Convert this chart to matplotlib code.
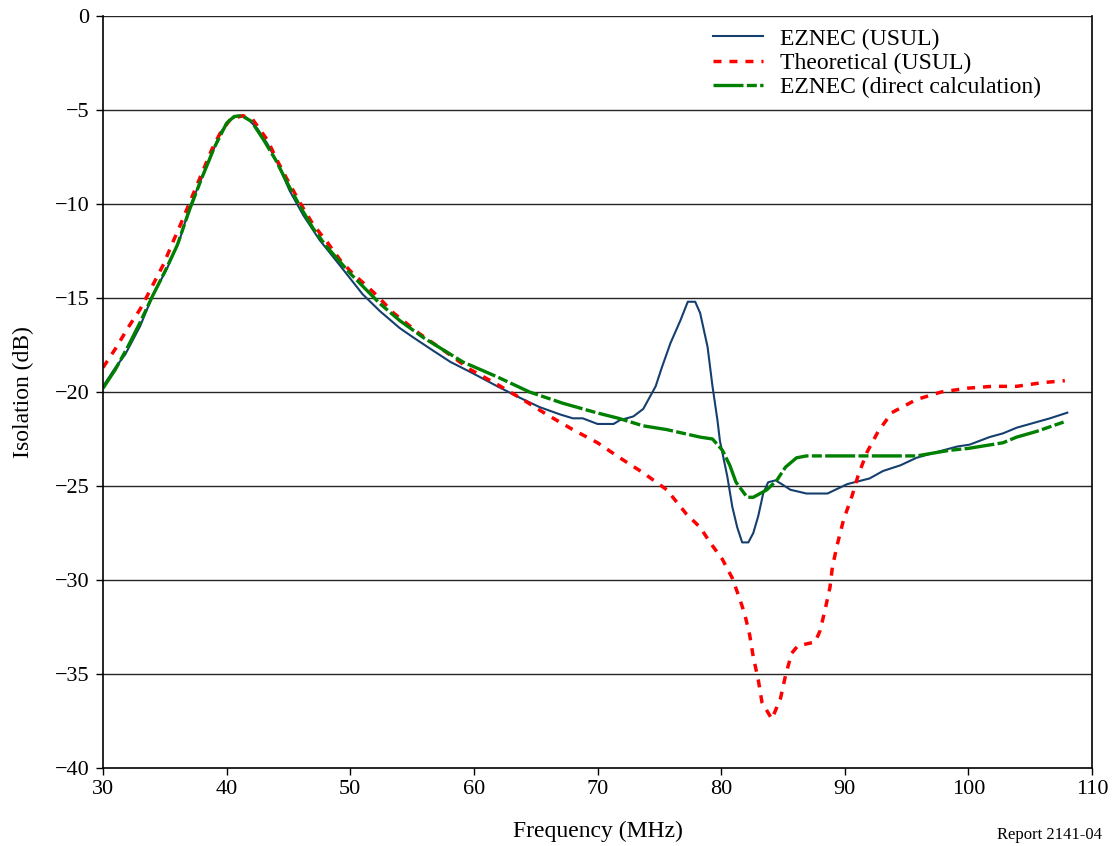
import matplotlib
matplotlib.use('Agg')
import numpy as np
import matplotlib.pyplot as plt

plt.rcParams['font.family'] = ['Liberation Serif', 'DejaVu Serif']

# EZNEC (USUL)
f_usul = [30, 31.0, 31.8, 33.0, 34.0, 35.2, 36.2, 37.0, 37.8, 38.7, 39.5, 40.3, 40.9,
          41.6, 42.5, 43.3, 44.1, 45.1, 46.2, 47.5, 49.2, 51.0, 52.4, 54.0, 55.1, 56.7,
          58.1, 59.9, 61.9, 63.7, 65.3, 67.0, 68.0, 68.8, 70.0, 71.3, 71.8, 72.9, 73.7,
          74.2, 74.7, 75.2, 75.9, 76.7, 77.3, 77.9, 78.3, 78.9, 79.3, 79.7, 79.9, 80.5,
          80.9, 81.3, 81.7, 82.2, 82.6, 83.0, 83.4, 83.8, 84.4, 84.9, 85.6, 86.9, 88.6,
          90.2, 92.0, 93.1, 94.5, 95.8, 97.4, 99.1, 100.1, 101.7, 102.8, 103.9, 106.6, 108.0]
iso_usul = [-19.7, -18.7, -18.0, -16.5, -14.9, -13.4, -11.9, -10.2, -8.9, -7.5, -6.2, -5.5, -5.3,
            -5.4, -6.0, -6.8, -7.8, -9.3, -10.6, -11.9, -13.3, -14.8, -15.7, -16.6, -17.1, -17.8,
            -18.4, -19.0, -19.7, -20.3, -20.8, -21.2, -21.4, -21.4, -21.7, -21.7, -21.5, -21.3, -20.9,
            -20.3, -19.7, -18.7, -17.4, -16.2, -15.2, -15.2, -15.8, -17.6, -19.7, -21.5, -22.6, -24.5,
            -26.1, -27.2, -28.0, -28.0, -27.5, -26.6, -25.4, -24.8, -24.7, -24.9, -25.2, -25.4, -25.4,
            -24.9, -24.6, -24.2, -23.9, -23.5, -23.2, -22.9, -22.8, -22.4, -22.2, -21.9, -21.4, -21.1]

# Theoretical (USUL)
f_theo = [30.0, 31.1, 32.0, 33.0, 33.8, 34.9, 35.6, 36.2, 37.4, 38.1, 38.8, 39.5, 40.3, 41.3,
          42.1, 43.3, 44.1, 44.9, 45.9, 47.0, 48.1, 49.2, 50.2, 51.4, 52.2, 53.5, 55.6, 57.8,
          59.7, 61.9, 63.7, 65.9, 68.0, 70.0, 71.8, 73.7, 75.6, 77.2, 78.3, 79.1, 80.1, 80.9,
          81.5, 81.9, 82.3, 82.6, 83.0, 83.3, 84.1, 84.8, 85.2, 85.7, 86.2, 87.6, 88.0, 88.4,
          88.8, 89.0, 89.4, 89.9, 90.6, 91.1, 91.8, 92.7, 93.8, 95.8, 97.8, 99.9, 101.9, 103.9,
          106.0, 107.8]
iso_theo = [-18.7, -17.6, -16.6, -15.6, -14.6, -13.2, -12.1, -11.2, -9.3, -8.2, -7.1, -6.2, -5.5, -5.3,
            -5.5, -6.6, -7.7, -8.7, -9.9, -11.1, -12.0, -13.0, -13.7, -14.4, -14.9, -15.8, -16.9, -17.9,
            -18.8, -19.6, -20.3, -21.2, -22.0, -22.7, -23.5, -24.3, -25.2, -26.5, -27.2, -28.0, -28.9, -29.9,
            -31.0, -31.8, -32.9, -34.1, -35.3, -36.5, -37.4, -36.3, -35.1, -33.9, -33.5, -33.3, -32.7, -31.6,
            -30.4, -29.3, -28.1, -26.8, -25.5, -24.4, -23.2, -22.1, -21.1, -20.4, -20.0, -19.8, -19.7, -19.7,
            -19.5, -19.4]

# EZNEC (direct calculation)
f_direct = [30, 31.0, 32.0, 33.0, 34.0, 35.0, 36.0, 37.0, 38.0, 39.0, 40.0, 40.6, 41.2, 42.0,
            43.0, 44.0, 45.0, 46.0, 47.0, 48.0, 50.0, 52.4, 54.0, 55.9, 59.1, 61.9, 64.5, 67.2,
            69.9, 71.7, 73.7, 75.6, 78.3, 79.3, 80.1, 80.7, 81.2, 82.1, 82.6, 83.7, 84.5, 85.2,
            86.1, 86.9, 95.8, 98.5, 100.0, 102.8, 103.9, 105.5, 107.7]
iso_direct = [-19.8, -18.8, -17.6, -16.3, -14.9, -13.6, -12.2, -10.3, -8.6, -7.0, -5.7, -5.35, -5.3, -5.6,
              -6.6, -7.7, -9.0, -10.2, -11.3, -12.2, -13.7, -15.3, -16.2, -17.1, -18.4, -19.2, -20.0, -20.6,
              -21.1, -21.4, -21.8, -22.0, -22.4, -22.5, -23.1, -23.9, -24.8, -25.6, -25.6, -25.2, -24.7, -24.0,
              -23.5, -23.4, -23.4, -23.1, -23.0, -22.7, -22.4, -22.1, -21.6]

fig = plt.figure(figsize=(11.15, 8.46), dpi=100)
ax = fig.add_axes([0.0924, 0.0922, 0.887, 0.8889])

for yv in range(-35, 1, 5):
    ax.axhline(yv, color='0.15', lw=1.0, zorder=0)

ax.plot(f_usul, iso_usul, color='#143f6e', lw=1.5, label='EZNEC (USUL)')
ax.plot(f_theo, iso_theo, color='#ff0000', lw=2.5, dashes=(2.3, 2.3), label='Theoretical (USUL)')
ax.plot(f_direct, iso_direct, color='#008000', lw=2.4, dashes=(9, 1.0, 3.0, 1.0),
        label='EZNEC (direct calculation)')

ax.set_xlim(30, 110)
ax.set_ylim(-40, 0)
ax.set_xticks(np.arange(30, 111, 10))
ax.set_yticks(np.arange(-40, 1, 5))
ax.tick_params(labelsize=16, direction='out', length=5, width=1)
ax.tick_params(axis='x', pad=4)
ax.tick_params(axis='y', pad=5)
ax.spines['top'].set_visible(False)
for s in ['left', 'bottom', 'right']:
    ax.spines[s].set_linewidth(1.2)
ax.set_xlabel('Frequency (MHz)', fontsize=17, labelpad=15)
ax.set_ylabel('Isolation (dB)', fontsize=17, labelpad=15)

leg = ax.legend(loc='upper left', bbox_to_anchor=(0.600, 1.006), frameon=False, fontsize=17,
                handlelength=2.1, handletextpad=0.75, labelspacing=0.12, borderpad=0.2)

fig.text(0.988, 0.003, 'Report 2141-04', ha='right', va='bottom', fontsize=12)

fig.savefig('out.png', dpi=100)
